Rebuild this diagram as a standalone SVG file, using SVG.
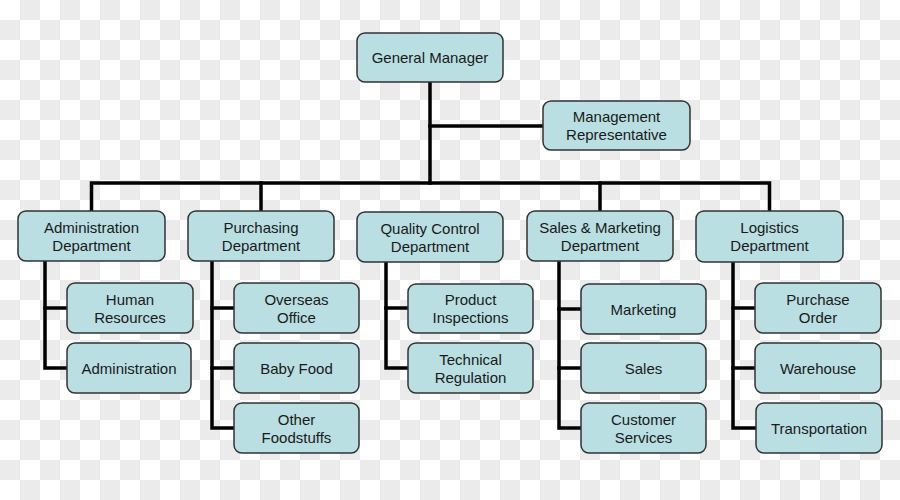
<svg xmlns="http://www.w3.org/2000/svg" width="900" height="500" viewBox="0 0 900 500">
<defs>
<pattern id="checker" width="40" height="40" patternUnits="userSpaceOnUse">
<rect width="40" height="40" fill="#ffffff"/>
<rect x="20" y="0" width="20" height="20" fill="#ebebeb"/>
<rect x="0" y="20" width="20" height="20" fill="#ebebeb"/>
</pattern>
<style>
.box{fill:#b9dfe2;stroke:#333333;stroke-width:1.5}
.lbl{font-family:"Liberation Sans",Arial,sans-serif;font-size:15px;fill:#1a1a1a;text-anchor:middle}
.conn{fill:none;stroke:#000000;stroke-width:3.5;stroke-linejoin:miter;stroke-linecap:square}
</style>
</defs>
<rect width="900" height="500" fill="url(#checker)"/>
<g id="connectors" class="conn">
<path d="M430 82 V183"/>
<path d="M430 126 H543"/>
<path d="M91.5 211 V183 H769.5 V211"/>
<path d="M261 183 V211"/>
<path d="M600 183 V211"/>
<path d="M45 261 V368 H67"/>
<path d="M45 308 H67"/>
<path d="M212 261 V428 H234"/>
<path d="M212 308 H234"/>
<path d="M212 368 H234"/>
<path d="M386 262 V368 H408"/>
<path d="M386 308 H408"/>
<path d="M559 262 V428 H581"/>
<path d="M559 309 H581"/>
<path d="M559 368 H581"/>
<path d="M733 262 V428 H756"/>
<path d="M733 308 H755"/>
<path d="M733 368 H755"/>
</g>
<g id="general-manager"><rect class="box" x="357" y="33" width="146" height="49" rx="8"/><text class="lbl" x="430" y="63">General Manager</text></g>
<g id="management-representative"><rect class="box" x="543" y="101" width="147" height="49" rx="8"/><text class="lbl" x="616.5" y="122">Management</text><text class="lbl" x="616.5" y="140">Representative</text></g>
<g id="administration-department"><rect class="box" x="18" y="211" width="147" height="50" rx="8"/><text class="lbl" x="91.5" y="232.5">Administration</text><text class="lbl" x="91.5" y="250.5">Department</text></g>
<g id="purchasing-department"><rect class="box" x="188" y="211" width="146" height="50" rx="8"/><text class="lbl" x="261" y="232.5">Purchasing</text><text class="lbl" x="261" y="250.5">Department</text></g>
<g id="quality-control-department"><rect class="box" x="357" y="212" width="146" height="50" rx="8"/><text class="lbl" x="430" y="233.5">Quality Control</text><text class="lbl" x="430" y="251.5">Department</text></g>
<g id="sales-marketing-department"><rect class="box" x="527" y="211" width="146" height="50" rx="8"/><text class="lbl" x="600" y="233">Sales &amp; Marketing</text><text class="lbl" x="600" y="251">Department</text></g>
<g id="logistics-department"><rect class="box" x="696" y="211" width="147" height="51" rx="8"/><text class="lbl" x="769.5" y="233">Logistics</text><text class="lbl" x="769.5" y="251">Department</text></g>
<g id="human-resources"><rect class="box" x="67" y="283" width="126" height="50" rx="8"/><text class="lbl" x="130" y="304.5">Human</text><text class="lbl" x="130" y="322.5">Resources</text></g>
<g id="administration"><rect class="box" x="67" y="343" width="124" height="50" rx="8"/><text class="lbl" x="129" y="373.5">Administration</text></g>
<g id="overseas-office"><rect class="box" x="234" y="283" width="125" height="50" rx="8"/><text class="lbl" x="296.5" y="304.5">Overseas</text><text class="lbl" x="296.5" y="322.5">Office</text></g>
<g id="baby-food"><rect class="box" x="234" y="343" width="125" height="50" rx="8"/><text class="lbl" x="296.5" y="373.5">Baby Food</text></g>
<g id="other-foodstuffs"><rect class="box" x="234" y="403" width="125" height="50" rx="8"/><text class="lbl" x="296.5" y="424.5">Other</text><text class="lbl" x="296.5" y="442.5">Foodstuffs</text></g>
<g id="product-inspections"><rect class="box" x="408" y="284" width="125" height="49" rx="8"/><text class="lbl" x="470.5" y="305">Product</text><text class="lbl" x="470.5" y="323">Inspections</text></g>
<g id="technical-regulation"><rect class="box" x="408" y="343" width="125" height="50" rx="8"/><text class="lbl" x="470.5" y="364.5">Technical</text><text class="lbl" x="470.5" y="382.5">Regulation</text></g>
<g id="marketing"><rect class="box" x="581" y="284" width="125" height="50" rx="8"/><text class="lbl" x="643.5" y="314.5">Marketing</text></g>
<g id="sales"><rect class="box" x="581" y="343" width="125" height="50" rx="8"/><text class="lbl" x="643.5" y="373.5">Sales</text></g>
<g id="customer-services"><rect class="box" x="581" y="403" width="125" height="50" rx="8"/><text class="lbl" x="643.5" y="424.5">Customer</text><text class="lbl" x="643.5" y="442.5">Services</text></g>
<g id="purchase-order"><rect class="box" x="755" y="283" width="126" height="50" rx="8"/><text class="lbl" x="818" y="305">Purchase</text><text class="lbl" x="818" y="323">Order</text></g>
<g id="warehouse"><rect class="box" x="755" y="343" width="126" height="50" rx="8"/><text class="lbl" x="818" y="373.5">Warehouse</text></g>
<g id="transportation"><rect class="box" x="756" y="403" width="126" height="50" rx="8"/><text class="lbl" x="819" y="433.5">Transportation</text></g>
</svg>
